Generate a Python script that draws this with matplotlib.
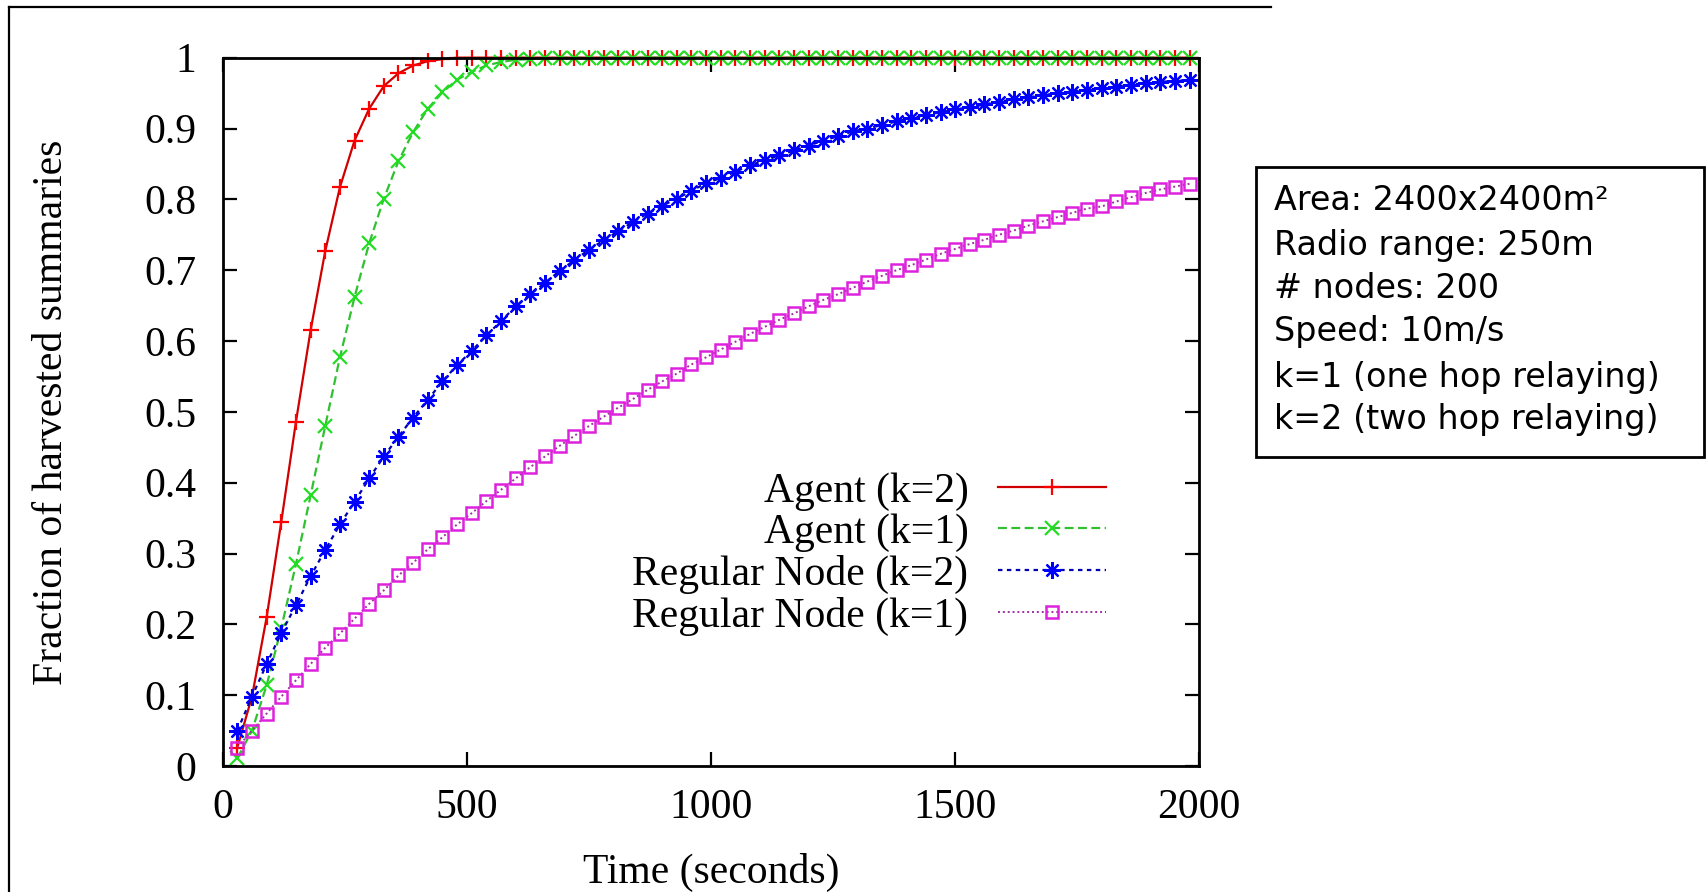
import matplotlib
matplotlib.use('Agg')
import matplotlib.pyplot as plt
from matplotlib.lines import Line2D

# sample times (s)
t = [30 * i for i in range(1, 67)]

agent_k2 = [0.026, 0.098, 0.21, 0.345, 0.486, 0.615, 0.727, 0.817, 0.883, 0.928,
            0.96, 0.978, 0.989, 0.995, 0.998] + [1.0] * 51

agent_k1 = [0.011, 0.05, 0.114, 0.195, 0.285, 0.382, 0.48, 0.577, 0.662, 0.738,
            0.801, 0.854, 0.895, 0.928, 0.951, 0.969, 0.98, 0.989, 0.994, 0.997,
            0.998, 0.999] + [1.0] * 44

regular_k2 = [0.050, 0.098, 0.144, 0.188, 0.227, 0.268, 0.305, 0.341, 0.373, 0.406,
              0.437, 0.465, 0.492, 0.517, 0.543, 0.566, 0.586, 0.608, 0.628, 0.649,
              0.666, 0.682, 0.699, 0.714, 0.729, 0.742, 0.755, 0.768, 0.780, 0.791,
              0.801, 0.812, 0.823, 0.830, 0.839, 0.848, 0.855, 0.862, 0.869, 0.876,
              0.883, 0.889, 0.896, 0.900, 0.905, 0.910, 0.915, 0.919, 0.923, 0.927,
              0.930, 0.934, 0.938, 0.941, 0.944, 0.947, 0.950, 0.952, 0.955, 0.957,
              0.959, 0.962, 0.964, 0.966, 0.967, 0.969]

regular_k1 = [0.026, 0.050, 0.074, 0.098, 0.121, 0.144, 0.167, 0.187, 0.208, 0.229,
              0.248, 0.269, 0.287, 0.306, 0.323, 0.341, 0.357, 0.374, 0.390, 0.406,
              0.422, 0.437, 0.452, 0.466, 0.480, 0.493, 0.506, 0.518, 0.531, 0.543,
              0.554, 0.567, 0.577, 0.588, 0.599, 0.610, 0.620, 0.630, 0.639, 0.649,
              0.658, 0.666, 0.675, 0.684, 0.692, 0.700, 0.707, 0.715, 0.723, 0.730,
              0.737, 0.743, 0.750, 0.756, 0.763, 0.769, 0.775, 0.781, 0.787, 0.790,
              0.797, 0.803, 0.809, 0.814, 0.818, 0.822]

labels = ['Agent (k=2)', 'Agent (k=1)', 'Regular Node (k=2)', 'Regular Node (k=1)']
xticks = [0, 500, 1000, 1500, 2000]
yticks = [0, 0.1, 0.2, 0.3, 0.4, 0.5, 0.6, 0.7, 0.8, 0.9, 1]
ytick_labels = ['0', '0.1', '0.2', '0.3', '0.4', '0.5', '0.6', '0.7', '0.8', '0.9', '1']
info_lines = ['Area: 2400x2400m\u00b2', 'Radio range: 250m', '# nodes: 200',
              'Speed: 10m/s', 'k=1 (one hop relaying)', 'k=2 (two hop relaying)']

W, H = 1708, 892
serif = ['Liberation Serif', 'DejaVu Serif']

fig = plt.figure(figsize=(W / 100, H / 100), dpi=100)
ax = fig.add_axes([222.7 / W, 1 - 766 / H, 976.6 / W, 708.3 / H])

ax.plot(t, agent_k2, color='#d00000', lw=1.6, ls='-', marker='+', ms=12,
        mec='#ff0000', mew=1.6, clip_on=False, label=labels[0])
ax.plot(t, agent_k1, color='#30c030', lw=1.6, ls=(0, (4, 2)), marker='x', ms=10,
        mec='#22dd22', mew=1.6, clip_on=False, label=labels[1])
ax.plot(t, regular_k2, color='#0000b0', lw=1.6, ls=(0, (2, 2)), marker=(8, 2, 0), ms=12,
        mec='#0000ff', mew=1.6, clip_on=False, label=labels[2])
ax.plot(t, regular_k1, color='#a030a0', lw=1.4, ls=(0, (1, 1.5)), marker='s', ms=8,
        mfc='none', mec='#dd22dd', mew=1.8, clip_on=False, label=labels[3])

ax.set_xlim(0, 2000)
ax.set_ylim(0, 1)
ax.set_xticks(xticks)
ax.set_yticks(yticks)
ax.set_yticklabels(ytick_labels)
ax.tick_params(direction='in', length=10, width=1.6, top=True, right=True,
               labelsize=30)
ax.tick_params(axis='y', pad=19)
ax.tick_params(axis='x', pad=16)
for lab in ax.get_xticklabels() + ax.get_yticklabels():
    lab.set_family(serif)
for sp in ax.spines.values():
    sp.set_linewidth(2)

fig.text(52 / W, 1 - 412 / H, 'Fraction of harvested summaries', rotation=90,
         ha='center', va='center', fontsize=30, family=serif)
fig.text(711 / W, 1 - 872 / H, 'Time (seconds)', ha='center', va='center',
         fontsize=30, family=serif)

leg = ax.legend(loc='lower right', bbox_to_anchor=(1106 / W, 1 - 636 / H),
                bbox_transform=fig.transFigure, frameon=False, markerfirst=False,
                prop={'family': serif, 'size': 30}, handlelength=2.6,
                handletextpad=0.7, labelspacing=0.07, borderpad=0,
                borderaxespad=0, numpoints=1)

# info box
box = plt.Rectangle((1256 / W, 1 - 457 / H), 448 / W, 290 / H, transform=fig.transFigure,
                    fill=False, ec='black', lw=2)
fig.add_artist(box)
ys = [201, 246, 289, 332, 377, 420]
for s, yy in zip(info_lines, ys):
    fig.text(1274 / W, 1 - yy / H, s, ha='left', va='center', fontsize=24,
             family='DejaVu Sans')

# slide frame
fig.add_artist(Line2D([9 / W, 1271 / W], [1 - 7 / H, 1 - 7 / H], color='black', lw=1.6))
fig.add_artist(Line2D([9 / W, 9 / W], [1 - 7 / H, 0], color='black', lw=1.6))

fig.savefig('out.png', dpi=100)
